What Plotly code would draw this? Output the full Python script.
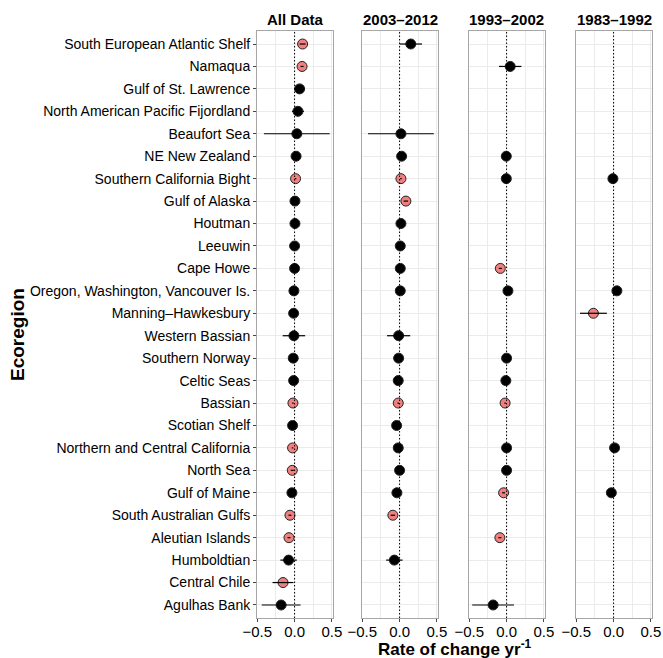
import plotly.graph_objects as go

# ---------------- data ----------------
regions = [
    "South European Atlantic Shelf", "Namaqua", "Gulf of St. Lawrence",
    "North American Pacific Fijordland", "Beaufort Sea", "NE New Zealand",
    "Southern California Bight", "Gulf of Alaska", "Houtman", "Leeuwin",
    "Cape Howe", "Oregon, Washington, Vancouver Is.", "Manning–Hawkesbury",
    "Western Bassian", "Southern Norway", "Celtic Seas", "Bassian",
    "Scotian Shelf", "Northern and Central California", "North Sea",
    "Gulf of Maine", "South Australian Gulfs", "Aleutian Islands",
    "Humboldtian", "Central Chile", "Agulhas Bank",
]
periods = ["All Data", "2003–2012", "1993–2002", "1983–1992"]

all_val = [0.107, 0.10, 0.067, 0.045, 0.03, 0.02, 0.013, 0.005, 0.005, 0.0,
           0.0, -0.009, -0.013, -0.009, -0.018, -0.013, -0.022, -0.027, -0.027,
           -0.031, -0.036, -0.062, -0.075, -0.08, -0.155, -0.18]
all_err = [0.04, 0.02, 0.07, 0.08, 0.44, 0.01, 0.01, 0.01, 0.01, 0.01,
           0.01, 0.01, 0.01, 0.15, 0.01, 0.01, 0.01, 0.01, 0.01,
           0.02, 0.01, 0.02, 0.02, 0.11, 0.14, 0.26]
all_sig = [1, 1, 0, 0, 0, 0, 1, 0, 0, 0, 0, 0, 0, 0, 0, 0, 1, 0, 1, 1, 0, 1, 1, 0, 1, 0]

p03_val = [0.15, None, None, None, 0.018, 0.027, 0.018, 0.084, 0.018, 0.009,
           0.009, 0.009, None, -0.013, -0.013, -0.018, -0.018, -0.04, -0.018,
           0.0, -0.036, -0.09, None, -0.07, None, None]
p03_err = [0.15, None, None, None, 0.44, 0.01, 0.01, 0.03, 0.01, 0.01,
           0.01, 0.01, None, 0.155, 0.01, 0.01, 0.01, 0.04, 0.01,
           0.01, 0.01, 0.03, None, 0.11, None, None]
p03_sig = [0, 0, 0, 0, 0, 0, 1, 1, 0, 0, 0, 0, 0, 0, 0, 0, 1, 0, 0, 0, 0, 1, 0, 0, 0, 0]

p93_val = [None, 0.048, None, None, None, -0.004, -0.004, None, None, None,
           -0.084, 0.018, None, None, 0.0, -0.01, -0.02, None, 0.0,
           0.0, -0.04, None, -0.09, None, None, -0.18]
p93_err = [None, 0.15, None, None, None, 0.01, 0.01, None, None, None,
           0.02, 0.01, None, None, 0.01, 0.01, 0.01, None, 0.01,
           0.01, 0.02, None, 0.02, None, None, 0.28]
p93_sig = [0, 0, 0, 0, 0, 0, 0, 0, 0, 0, 1, 0, 0, 0, 0, 0, 1, 0, 0, 0, 1, 0, 1, 0, 0, 0]

p83_val = [None, None, None, None, None, None, -0.009, None, None, None,
           None, 0.044, -0.27, None, None, None, None, None, 0.013,
           None, -0.03, None, None, None, None, None]
p83_err = [None, None, None, None, None, None, 0.01, None, None, None,
           None, 0.01, 0.18, None, None, None, None, None, 0.01,
           None, 0.01, None, None, None, None, None]
p83_sig = [0, 0, 0, 0, 0, 0, 0, 0, 0, 0, 0, 0, 1, 0, 0, 0, 0, 0, 0, 0, 0, 0, 0, 0, 0, 0]

x_ticks = [-0.5, 0.0, 0.5]
x_ticktext = ["−0.5", "0.0", "0.5"]

panels = [
    (all_val, all_err, all_sig),
    (p03_val, p03_err, p03_sig),
    (p93_val, p93_err, p93_sig),
    (p83_val, p83_err, p83_sig),
]

# ---------------- layout constants ----------------
W, H = 663, 658
panel_left = [257, 362, 469, 576]
panel_w = 76
top_px, bot_px = 31, 618
FONT = "Liberation Sans, Arial, Helvetica, sans-serif"
RED = "#F08080"
GRID = "#EBEBEB"
BORDER = "#A6A6A6"

fig = go.Figure()

for i, (vals, errs, sig) in enumerate(panels):
    xa = "x" if i == 0 else f"x{i+1}"
    ya = "y" if i == 0 else f"y{i+1}"
    # markers
    for flag, fill in [(0, "black"), (1, RED)]:
        xs = [v for v, s in zip(vals, sig) if v is not None and s == flag]
        ys = [r for v, s, r in zip(vals, sig, regions) if v is not None and s == flag]
        fig.add_trace(go.Scatter(
            x=xs, y=ys, mode="markers", xaxis=xa, yaxis=ya,
            marker=dict(size=10, color=fill, line=dict(color="#222222", width=1)),
            showlegend=False, hoverinfo="skip"))
    # error bars drawn on top
    ex, ey = [], []
    for v, e, r in zip(vals, errs, regions):
        if v is None:
            continue
        ex += [v - e, v + e, None]
        ey += [r, r, None]
    fig.add_trace(go.Scatter(
        x=ex, y=ey, mode="lines", xaxis=xa, yaxis=ya,
        line=dict(color="black", width=1.2),
        showlegend=False, hoverinfo="skip"))

n = len(regions)
layout = dict(
    width=W, height=H,
    margin=dict(l=0, r=0, t=0, b=0),
    paper_bgcolor="white", plot_bgcolor="white",
    font=dict(family=FONT, size=14, color="black"),
    showlegend=False,
)
ydom = [1 - bot_px / H, 1 - top_px / H]
for i in range(4):
    xk = "xaxis" if i == 0 else f"xaxis{i+1}"
    yk = "yaxis" if i == 0 else f"yaxis{i+1}"
    ya = "y" if i == 0 else f"y{i+1}"
    xa = "x" if i == 0 else f"x{i+1}"
    layout[xk] = dict(
        domain=[panel_left[i] / W, (panel_left[i] + panel_w) / W],
        anchor=ya, range=[-0.503, 0.514],
        tickvals=x_ticks, ticktext=x_ticktext,
        ticks="outside", ticklen=3, tickcolor="#444", tickwidth=1,
        ticklabelstandoff=-3,
        tickfont=dict(size=15, color="black"),
        showgrid=True, gridcolor=GRID, gridwidth=1,
        minor=dict(tick0=0, dtick=0.25, showgrid=True, gridcolor=GRID, gridwidth=1),
        zeroline=False, showline=True, mirror=True, linecolor=BORDER, linewidth=1,
        fixedrange=True, automargin=False,
    )
    layout[yk] = dict(
        domain=ydom, anchor=xa,
        type="category", categoryorder="array", categoryarray=regions,
        range=[n - 1 + 0.58, -0.58],
        showticklabels=(i == 0),
        ticks="outside" if i == 0 else "", ticklen=3, tickcolor="#444",
        tickfont=dict(size=14, color="black"),
        showgrid=True, gridcolor=GRID, gridwidth=1,
        zeroline=False, showline=True, mirror=True, linecolor=BORDER, linewidth=1,
        fixedrange=True, automargin=False,
    )
    if i > 0:
        layout[yk]["matches"] = "y"

fig.update_layout(**layout)

# dotted zero reference lines
for i in range(4):
    xa = "x" if i == 0 else f"x{i+1}"
    ya = "y" if i == 0 else f"y{i+1}"
    fig.add_shape(type="line", xref=xa, yref=f"{ya} domain", x0=0, x1=0, y0=0, y1=1,
                  line=dict(color="black", width=1, dash="1.5px,2px"), layer="above")

# facet titles
for i, p in enumerate(periods):
    fig.add_annotation(
        x=(panel_left[i] + panel_w / 2) / W, y=1 - 19 / H, xref="paper", yref="paper",
        text=f"<b>{p}</b>", showarrow=False, xanchor="center", yanchor="middle",
        font=dict(size=15, family=FONT, color="black"))

# axis titles
fig.add_annotation(
    x=(panel_left[0] + panel_left[3] + panel_w) / 2 / W, y=1 - 648 / H,
    xref="paper", yref="paper",
    text="<b>Rate of change yr<sup>-1</sup></b>", showarrow=False,
    xanchor="center", yanchor="middle", font=dict(size=17, family=FONT, color="black"))
fig.add_annotation(
    x=17 / W, y=1 - 335 / H, xref="paper", yref="paper",
    text="<b>Ecoregion</b>", showarrow=False, textangle=-90,
    xanchor="center", yanchor="middle", font=dict(size=19, family=FONT, color="black"))

fig.write_html(
    "out.html",
    config={"displayModeBar": False},
    post_script="document.body.style.margin='0px';document.body.style.overflow='hidden';",
)
